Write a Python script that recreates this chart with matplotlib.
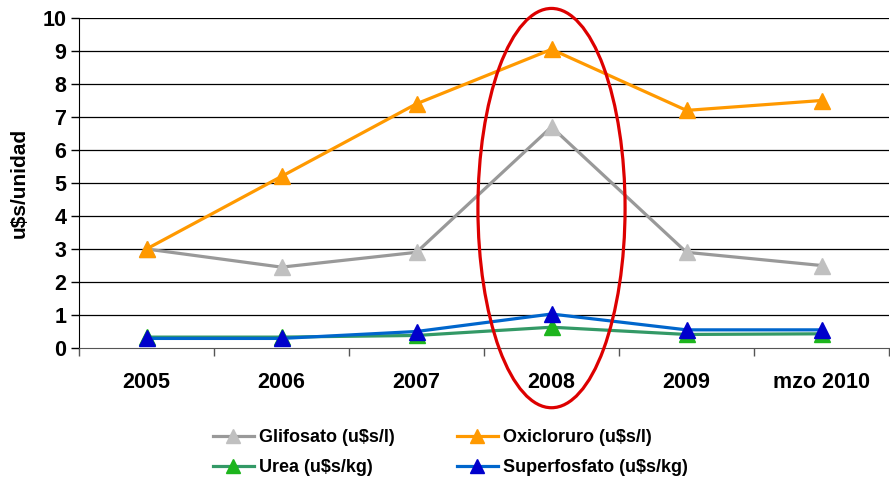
import numpy as np
import matplotlib.pyplot as plt
from matplotlib.patches import Ellipse

plt.rcParams['font.family'] = ['Liberation Sans', 'DejaVu Sans']
plt.rcParams['font.weight'] = 'bold'

# data
years = ['2005', '2006', '2007', '2008', '2009', 'mzo 2010']
glifosato = [3.0, 2.45, 2.9, 6.7, 2.9, 2.5]
oxicloruro = [3.0, 5.2, 7.4, 9.05, 7.2, 7.5]
urea = [0.33, 0.33, 0.38, 0.63, 0.41, 0.43]
superfosfato = [0.29, 0.29, 0.5, 1.03, 0.55, 0.55]

x = np.arange(len(years))

fig = plt.figure(figsize=(8.9, 4.82), dpi=100)
ax = fig.add_axes([79/890, 1-348/482, 810/890, 330/482])

for yv in range(1, 11):
    ax.axhline(yv, color='black', lw=0.9, zorder=1)

ax.plot(x, glifosato, color='#999999', lw=2.3, marker='^', ms=12,
        mfc='#C0C0C0', mec='#C0C0C0', label='Glifosato (u$s/l)', zorder=3)
ax.plot(x, oxicloruro, color='#FF9900', lw=2.3, marker='^', ms=12,
        mfc='#FF9900', mec='#FF9900', label='Oxicloruro (u$s/l)', zorder=3)
ax.plot(x, urea, color='#339966', lw=2.3, marker='^', ms=12,
        mfc='#1DB51D', mec='#1DB51D', label='Urea (u$s/kg)', zorder=3)
ax.plot(x, superfosfato, color='#0066CC', lw=2.3, marker='^', ms=12,
        mfc='#0000CC', mec='#0000CC', label='Superfosfato (u$s/kg)', zorder=4)

# red highlight around 2008
ell = Ellipse((3, 4.24), 1.09, 12.1, fill=False, edgecolor='#DD0000',
              lw=2.3, clip_on=False, zorder=5)
ax.add_patch(ell)

ax.set_xlim(-0.5, len(years) - 0.5)
ax.set_ylim(0, 10)
ax.set_yticks(range(0, 11))
ax.set_xticks(x)
ax.set_xticklabels(years)
ax.set_xticks(np.arange(-0.5, len(years)), minor=True)
ax.tick_params(axis='x', which='major', length=0, pad=17, labelsize=15.5)
ax.tick_params(axis='x', which='minor', length=6, width=1, color='#555555')
ax.tick_params(axis='y', length=6, width=1, labelsize=15.5, pad=3)
for lbl in ax.get_xticklabels() + ax.get_yticklabels():
    lbl.set_fontweight('bold')

ax.spines['top'].set_visible(False)
ax.spines['right'].set_visible(False)
ax.spines['bottom'].set_color('#555555')
ax.spines['left'].set_color('black')

ax.set_ylabel('u$s/unidad', fontsize=15, fontweight='bold')
ax.yaxis.set_label_coords(-50/810, 0.5)

h, l = ax.get_legend_handles_labels()
order = [0, 2, 1, 3]
fig.legend([h[i] for i in order], [l[i] for i in order], loc='center',
           bbox_to_anchor=(450/890, 1-453/482), ncol=2, frameon=False,
           prop={'size': 13, 'weight': 'bold'}, handlelength=2.3,
           handletextpad=0.25, columnspacing=3.45, labelspacing=0.72,
           markerscale=0.85)

fig.savefig('out.png', dpi=100)
